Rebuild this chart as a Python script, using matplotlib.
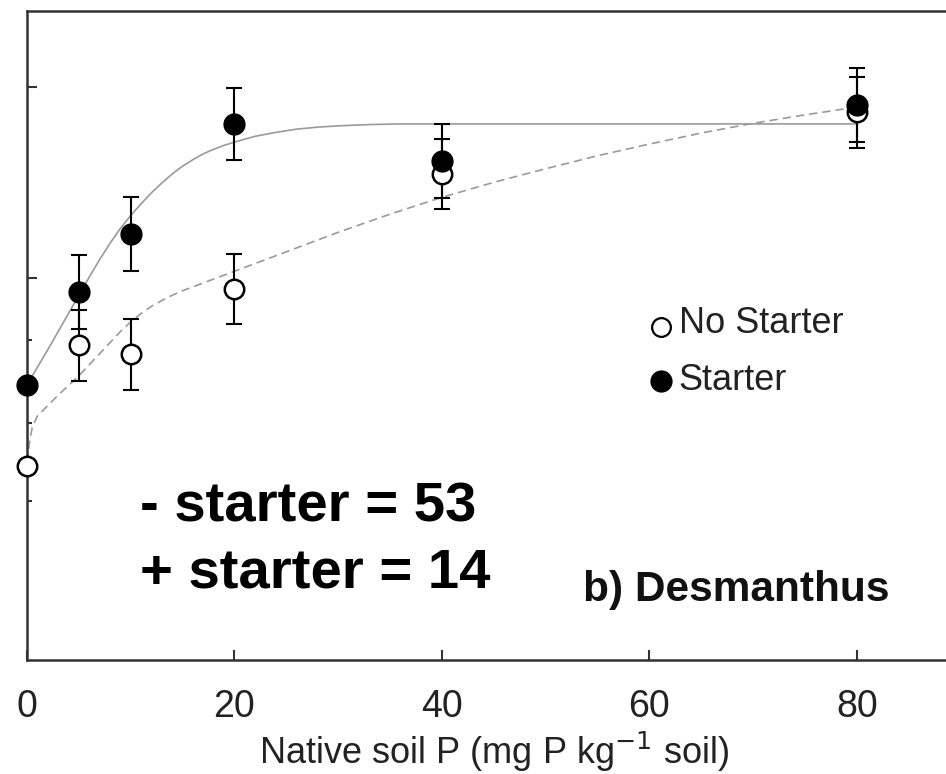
import numpy as np
import matplotlib
matplotlib.use("Agg")
import matplotlib.pyplot as plt

plt.rcParams["font.family"] = ["Liberation Sans", "DejaVu Sans"]

# measured points (arbitrary y units, axis unlabelled in source)
soil_p = [0, 5, 10, 20, 40, 80]
starter = [42.4, 56.7, 65.6, 82.6, 76.9, 85.5]
starter_err = [0, 5.7, 5.7, 5.5, 5.7, 5.7]
no_starter = [29.9, 48.5, 47.1, 57.2, 74.9, 84.4]
no_starter_err = [0, 5.5, 5.5, 5.4, 5.4, 5.5]

# fitted curves
fit_starter_x = [0, 1, 2, 3, 4, 5, 6, 7, 8, 9, 10, 11, 12, 13, 14, 15, 16,
                 17, 18, 19, 20, 22, 24, 26, 28, 30, 33, 36, 40, 50, 60, 70, 80]
fit_starter_y = [42.4, 45.1, 47.8, 50.6, 53.4, 56.2, 59.0, 61.7, 64.2, 66.5,
                 68.5, 70.3, 72.0, 73.5, 74.9, 76.1, 77.1, 78.0, 78.7, 79.3,
                 79.8, 80.7, 81.3, 81.8, 82.1, 82.3, 82.5, 82.6, 82.6, 82.6,
                 82.6, 82.6, 82.6]
fit_no_starter_x = [0, 0.25, 0.5, 1, 2, 3, 4, 5, 6, 7, 8, 9, 10, 11, 12, 13,
                    14, 15, 16, 17, 18, 20, 25, 30, 35, 40, 45, 50, 55, 60,
                    65, 70, 75, 80]
fit_no_starter_y = [30.5, 33.6, 35.8, 37.6, 39.2, 40.8, 42.3, 43.8, 45.5,
                    47.2, 48.9, 50.6, 52.1, 53.4, 54.5, 55.4, 56.2, 56.9,
                    57.5, 58.1, 58.7, 59.9, 62.9, 65.9, 68.7, 71.3, 73.6,
                    75.7, 77.7, 79.5, 81.2, 82.7, 84.0, 85.2]

xticks = [0, 20, 40, 60, 80]
ytick_major = [29.6, 58.9, 88.3]
ytick_minor = [24.5, 36.5, 49.3]

fig = plt.figure(figsize=(9.46, 7.74), dpi=100)
ax = fig.add_axes([0.02854, 0.14729, 0.98705, 0.83850])
ax.set_xlim(0, 90)
ax.set_ylim(0, 100)

# curves
ax.plot(fit_starter_x, fit_starter_y, color="#9a9a9a", lw=1.2, zorder=2, clip_on=False)
ax.plot(fit_no_starter_x, fit_no_starter_y, color="#9a9a9a", lw=1.2,
        dashes=(5, 3), zorder=2, clip_on=False)

# error bars (none at 0)
ax.errorbar(soil_p[1:], no_starter[1:], yerr=no_starter_err[1:], fmt="none",
            ecolor="black", elinewidth=1.5, capsize=6, capthick=1.5, zorder=3)
ax.errorbar(soil_p[1:], starter[1:], yerr=starter_err[1:], fmt="none",
            ecolor="black", elinewidth=1.5, capsize=6, capthick=1.5, zorder=3)

# markers
ax.plot(soil_p, no_starter, "o", ms=14, mfc="white", mec="black", mew=1.8,
        ls="none", zorder=4, clip_on=False)
ax.plot(soil_p, starter, "o", ms=15, mfc="black", mec="black", mew=1,
        ls="none", zorder=5, clip_on=False)

# legend drawn by hand
ax.plot([0.679], [0.513], "o", ms=13.5, mfc="white", mec="black", mew=1.6,
        transform=ax.transAxes, clip_on=False)
ax.plot([0.679], [0.430], "o", ms=15, mfc="black", mec="black",
        transform=ax.transAxes, clip_on=False)
ax.text(0.698, 0.5185, "No Starter", transform=ax.transAxes, va="center",
        ha="left", fontsize=26, color="#222222")
ax.text(0.698, 0.4299, "Starter", transform=ax.transAxes, va="center",
        ha="left", fontsize=26, color="#222222")

# annotations
ax.text(10.9, 21.3, "- starter = 53", fontsize=40.5, fontweight="bold", va="baseline")
ax.text(10.9, 11.2, "+ starter = 14", fontsize=40.5, fontweight="bold", va="baseline")
ax.text(53.6, 9.1, "b) Desmanthus", fontsize=30.5, fontweight="bold",
        va="baseline", color="#111111")

# axes styling
for side in ["left", "bottom", "top", "right"]:
    ax.spines[side].set_linewidth(1.8)
    ax.spines[side].set_color("#333333")

ax.set_xticks(xticks)
ax.set_xticklabels([str(t) for t in xticks])
ax.set_yticks(ytick_major)
ax.set_yticks(ytick_minor, minor=True)
ax.set_yticklabels([])
ax.tick_params(axis="x", direction="in", length=7, width=1.5, pad=21,
               labelsize=27, labelcolor="#222222", color="#333333")
ax.tick_params(axis="y", which="major", direction="in", length=7, width=1.5,
               color="#333333")
ax.tick_params(axis="y", which="minor", direction="in", length=3.5, width=1.5,
               color="#333333")
ax.set_xlabel("Native soil P (mg P kg$^{-1}$ soil)", fontsize=26,
              color="#222222", labelpad=3)

plt.savefig("out.png", dpi=100)
plt.close()
